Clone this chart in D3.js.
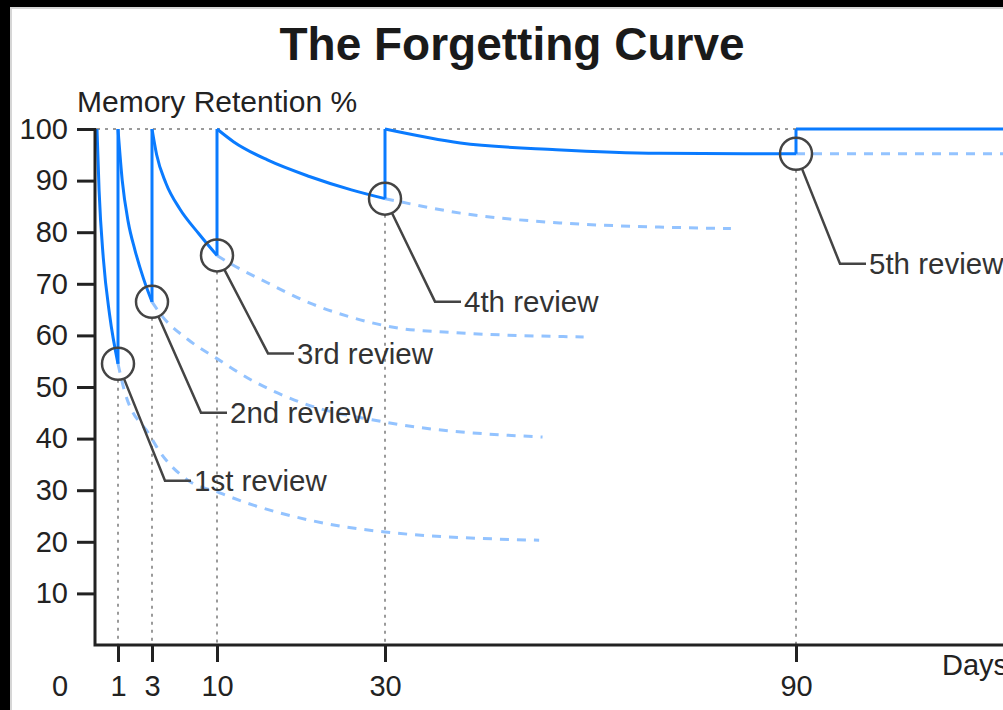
<!DOCTYPE html>
<html>
<head>
<meta charset="utf-8">
<script src="https://cdn.jsdelivr.net/npm/d3@7"></script>
<style>
  html, body { margin: 0; padding: 0; background: #000; }
  svg { display: block; font-family: "Liberation Sans", Arial, sans-serif; }
</style>
</head>
<body>
<svg id="chart" width="1003" height="710"></svg>
<script>
// ---- data ----
const reviewDays = [1, 3, 10, 30, 90];
const reviewRetention = [54.5, 66.5, 75.5, 86.5, 95.2];
const reviewLabels = ['1st review', '2nd review', '3rd review', '4th review', '5th review'];
const dayTicks = [1, 3, 10, 30, 90];
const retentionTicks = [10, 20, 30, 40, 50, 60, 70, 80, 90, 100];

// solid curve, one piece per interval between reviews: [day, retention %]
const retained0 = [[0, 100], [0.1, 88], [0.3, 75], [0.6, 64], [1, 54.5]];
const retained1 = [[1, 100], [1.25, 90], [1.6, 82], [2, 76.5], [2.5, 71], [3, 66.5]];
const retained2 = [[3, 100], [3.5, 95], [4.5, 89.5], [6, 84.5], [8, 79.8], [10, 75.5]];
const retained3 = [[10, 100], [12, 97.5], [16, 94], [21, 90.8], [26, 88.2], [30, 86.5]];
const retained4 = [[30, 100], [41, 97.3], [55, 96], [70, 95.3], [90, 95.2]];
const retained5 = [[90, 100], [130, 100]];

// dashed curves: what would be kept without the review
const forgotten1 = [[1, 54.5], [1.4, 49], [2.9, 40.5], [3.5, 38.4], [6.8, 32], [10.3, 29.5], [13.6, 27.5], [21, 24.2], [30, 21.9], [52.5, 20.3]];
const forgotten2 = [[3, 66.5], [4.2, 63.5], [6.8, 59.3], [10, 55.5], [13.6, 51.8], [20, 47], [30, 43.2], [53, 40.3]];
const forgotten3 = [[10, 75.5], [11.5, 74], [16, 70.2], [21, 66.3], [25.8, 63.6], [32, 61.4], [39.5, 60.6], [59, 59.7]];
const forgotten4 = [[30, 86.5], [32.2, 85.9], [41, 83.7], [55.5, 81.8], [70, 81], [80.5, 80.7]];
const forgotten5 = [[90, 95.2], [130, 95.2]];

const retained = [retained0, retained1, retained2, retained3, retained4, retained5];
const forgotten = [forgotten1, forgotten2, forgotten3, forgotten4, forgotten5];

// ---- layout ----
const width = 1003;
const height = 710;
const blue = '#0a7bff';
const lightBlue = '#93c3ff';
const ink = '#222';
const circleR = 16;
// leader elbow offsets from each circle centre
const leaderOffsets = [[47, 117], [49, 111], [51, 98], [50, 103], [44, 110]];

// the day axis is stretched by hand: early days get more room
const xScale = d3.scaleLinear()
    .domain([0, 1, 3, 10, 30, 90, 130])
    .range([97, 118, 152, 217, 385, 796, 1070]);

const yScale = d3.scaleLinear()
    .domain([0, 100])
    .range([645, 129]);

const svg = d3.select('#chart');

// screenshot frame
svg.append('rect').attr('width', width).attr('height', height).attr('fill', '#000');
svg.append('rect').attr('x', 10).attr('y', 7).attr('width', width).attr('height', height).attr('fill', '#d6d6d6');
svg.append('rect').attr('x', 12).attr('y', 9).attr('width', width).attr('height', height).attr('fill', '#fff');

// title
svg.append('text')
    .attr('x', 512)
    .attr('y', 60)
    .attr('text-anchor', 'middle')
    .attr('font-size', 46)
    .attr('font-weight', 'bold')
    .attr('fill', '#1a1a1a')
    .text('The Forgetting Curve');

svg.append('text')
    .attr('x', 77)
    .attr('y', 112)
    .attr('font-size', 30)
    .attr('fill', ink)
    .text('Memory Retention %');

// dotted guides: 100% line and one drop line per review
const guides = svg.append('g')
    .attr('stroke', '#9a9a9a')
    .attr('stroke-width', 2)
    .attr('stroke-dasharray', '3,5');
guides.append('line')
    .attr('x1', xScale(0)).attr('x2', xScale(130))
    .attr('y1', yScale(100)).attr('y2', yScale(100));
guides.selectAll('.drop')
    .data(reviewDays)
    .join('line')
    .attr('class', 'drop')
    .attr('x1', (d) => xScale(d)).attr('x2', (d) => xScale(d))
    .attr('y1', (d, i) => yScale(reviewRetention[i]) + circleR)
    .attr('y2', yScale(0));

const line = d3.line()
    .x((d) => xScale(d[0]))
    .y((d) => yScale(d[1]))
    .curve(d3.curveMonotoneX);

// dashed "no review" curves
svg.append('g')
    .selectAll('path')
    .data(forgotten)
    .join('path')
    .attr('d', line)
    .attr('fill', 'none')
    .attr('stroke', lightBlue)
    .attr('stroke-width', 3)
    .attr('stroke-dasharray', '9,8');

// solid retention curve with the jumps back to 100%
const solid = svg.append('g')
    .attr('fill', 'none')
    .attr('stroke', blue)
    .attr('stroke-width', 3);
solid.selectAll('path')
    .data(retained)
    .join('path')
    .attr('d', line);
solid.selectAll('line')
    .data(reviewDays)
    .join('line')
    .attr('x1', (d) => xScale(d)).attr('x2', (d) => xScale(d))
    .attr('y1', (d, i) => yScale(reviewRetention[i]))
    .attr('y2', yScale(100));

// axes
const yAxis = d3.axisLeft(yScale)
    .tickValues(retentionTicks)
    .tickSize(18)
    .tickPadding(9);
const yAxisGroup = svg.append('g')
    .attr('transform', `translate(${xScale(0) - 2},0)`)
    .call(yAxis);
yAxisGroup.select('.domain').remove();
yAxisGroup.selectAll('line').attr('stroke', ink).attr('stroke-width', 3);
yAxisGroup.selectAll('text')
    .attr('font-size', 29)
    .attr('font-family', '"Liberation Sans", Arial, sans-serif')
    .attr('fill', ink);

const xAxis = d3.axisBottom(xScale)
    .tickValues(dayTicks)
    .tickSize(17)
    .tickPadding(13);
const xAxisGroup = svg.append('g')
    .attr('transform', `translate(0,${yScale(0)})`)
    .call(xAxis);
xAxisGroup.select('.domain').remove();
xAxisGroup.selectAll('line').attr('stroke', ink).attr('stroke-width', 3);
xAxisGroup.selectAll('text')
    .attr('font-size', 29)
    .attr('font-family', '"Liberation Sans", Arial, sans-serif')
    .attr('fill', ink);

// L-shaped axis frame
svg.append('path')
    .attr('d', `M${xScale(0) - 2},${yScale(100) - 1}V${yScale(0)}H${xScale(130)}`)
    .attr('fill', 'none')
    .attr('stroke', ink)
    .attr('stroke-width', 3);

// origin label and x axis name
svg.append('text')
    .attr('x', xScale(0) - 37)
    .attr('y', yScale(0) + 51)
    .attr('text-anchor', 'middle')
    .attr('font-size', 29)
    .attr('fill', ink)
    .text('0');
svg.append('text')
    .attr('x', 942)
    .attr('y', yScale(0) + 30)
    .attr('font-size', 29)
    .attr('fill', ink)
    .text('Days');

// review markers with leader lines
const marks = svg.append('g');
reviewDays.forEach((day, i) => {
    const cx = xScale(day);
    const cy = yScale(reviewRetention[i]);
    const [dx, dy] = leaderOffsets[i];
    const len = Math.hypot(dx, dy);
    const sx = cx + (dx / len) * circleR;
    const sy = cy + (dy / len) * circleR;
    const ex = cx + dx;
    const ey = cy + dy;

    marks.append('circle')
        .attr('cx', cx).attr('cy', cy).attr('r', circleR)
        .attr('fill', 'none')
        .attr('stroke', '#444')
        .attr('stroke-width', 2.5);
    marks.append('path')
        .attr('d', `M${sx},${sy}L${ex},${ey}H${ex + 26}`)
        .attr('fill', 'none')
        .attr('stroke', '#444')
        .attr('stroke-width', 2.5);
    marks.append('text')
        .attr('x', ex + 29)
        .attr('y', ey)
        .attr('dy', '0.35em')
        .attr('font-size', 29.5)
        .attr('fill', '#333')
        .text(reviewLabels[i]);
});
</script>
</body>
</html>
